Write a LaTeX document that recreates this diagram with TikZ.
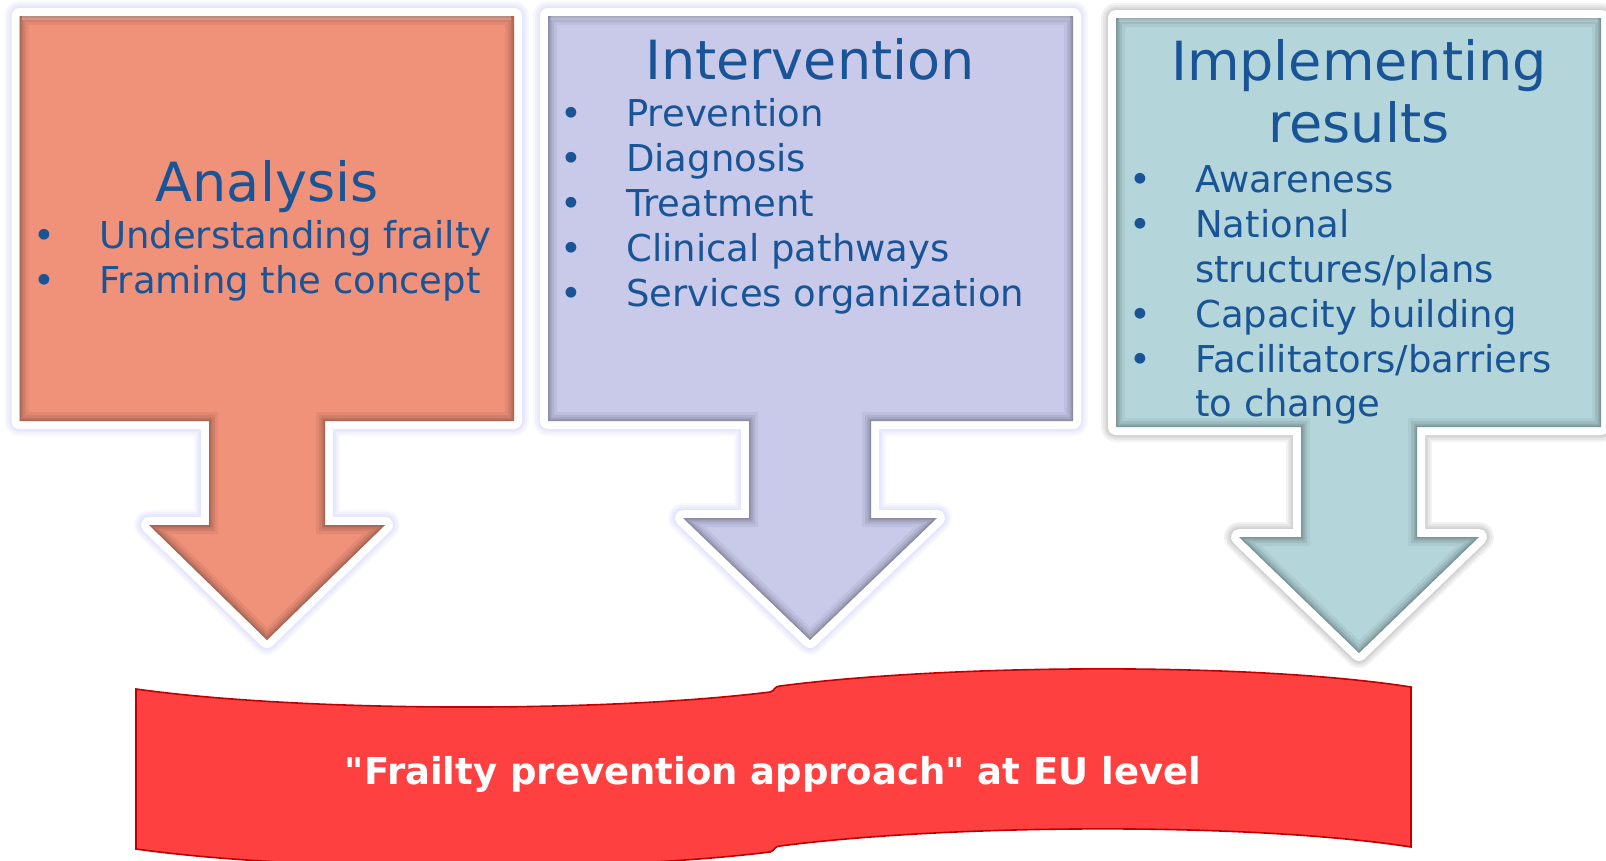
\documentclass[tikz,border=0pt]{standalone}
\usepackage{fontspec}
\setmainfont{DejaVu Sans}
% straight quotation marks on the banner
\newfontfamily\bannerfont{DejaVu Sans}[Ligatures=TeXOff]
\definecolor{textblue}{RGB}{24,84,150}
\definecolor{salmonfill}{RGB}{240,145,122}
\definecolor{lavfill}{RGB}{201,202,234}
\definecolor{tealfill}{RGB}{180,214,219}
\definecolor{glowlav}{RGB}{190,190,245}
\definecolor{bannerred}{RGB}{255,64,64}
\definecolor{bannerline}{RGB}{192,0,0}
% soft halo made of several faint strokes
\newcommand\softhalo[2]{%
  \foreach \w in {30,26,22,19}
    \draw[#2, opacity=.07, line width=\w, line join=round] #1;}
% one bevelled arrow box: #1 outline path, #2 fill colour, #3 halo colour
\newcommand\bevelarrow[3]{%
  \softhalo{#1}{#3}
  \draw[white, line width=16, line join=round] #1;
  \fill[#2] #1;
  \begin{scope}
    \clip #1;
    \foreach \w/\o in {18/.05,12/.07,7/.09,3/.12}
      \draw[black, opacity=\o, line width=\w, line join=miter] #1;
  \end{scope}}
\begin{document}
\begin{tikzpicture}[x=1pt,y=-1pt,
  bodytext/.style={inner sep=0pt, text=textblue, anchor=base west,
    font=\fontsize{37}{45}\selectfont},
  bulletmark/.style={inner sep=0pt, text=textblue, anchor=base,
    font=\fontsize{37}{45}\selectfont},
  titletext/.style={inner sep=0pt, text=textblue, anchor=base,
    font=\fontsize{54}{62}\selectfont},
]
\useasboundingbox (0,0) rectangle (1606,860);
\clip (0,0) rectangle (1606,860);

% --- three box arrows ---
\bevelarrow{(19.5,16) -- (514,16) -- (514,421) -- (325,421) -- (325,525) -- (385,525)
  -- (267,640) -- (149,525) -- (209,525) -- (209,421) -- (19.5,421) -- cycle}{salmonfill}{glowlav!80!blue}
\bevelarrow{(548,16) -- (1073,16) -- (1073,421) -- (871,421) -- (871,518) -- (937,518)
  -- (810,640) -- (683,518) -- (749,518) -- (749,421) -- (548,421) -- cycle}{lavfill}{glowlav!80!blue}
\bevelarrow{(1116,18) -- (1601,18) -- (1601,427) -- (1417,427) -- (1417,537) -- (1479,537)
  -- (1359,653) -- (1239,537) -- (1301,537) -- (1301,427) -- (1116,427) -- cycle}{tealfill}{black!70}

% highlights along the top edges
\foreach \xa/\xb/\yy in {22/511/18, 551/1070/18, 1119/1598/20}
  \draw[white, opacity=.25, line width=4] (\xa,\yy) -- (\xb,\yy);

% --- box 1 text ---
\node[titletext] (antitle) at (267,201) {Analysis};
\node[bulletmark] (anb1) at (44,248) {•};
\node[bodytext]   (ant1) at (99,248) {Understanding frailty};
\node[bulletmark] (anb2) at (44,293) {•};
\node[bodytext]   (ant2) at (99,293) {Framing the concept};

% --- box 2 text ---
\node[titletext] (intitle) at (810,79) {Intervention};
\foreach \yy/\txt [count=\i] in {126/Prevention, 171/Diagnosis, 216/Treatment,
    261/Clinical pathways, 306/Services organization}{
  \node[bulletmark] (inb\i) at (571.5,\yy) {•};
  \node[bodytext]   (int\i) at (626,\yy) {\txt};
}

% --- box 3 text ---
\node[titletext] (imtitlea) at (1359,80) {Implementing};
\node[titletext] (imtitleb) at (1359,142) {results};
\node[bulletmark] (imb1) at (1140,192) {•};
\node[bodytext]   (imt1) at (1195,192) {Awareness};
\node[bulletmark] (imb2) at (1140,237) {•};
\node[bodytext]   (imt2) at (1195,237) {National};
\node[bodytext]   (imt2b) at (1195,282) {structures/plans};
\node[bulletmark] (imb3) at (1140,327) {•};
\node[bodytext]   (imt3) at (1195,327) {Capacity building};
\node[bulletmark] (imb4) at (1140,372) {•};
\node[bodytext]   (imt4) at (1195,372) {Facilitators/barriers};
\node[bodytext]   (imt4b) at (1195,416) {to change};

% --- wave banner ---
\draw[fill=bannerred, draw=bannerline, line width=1.6]
  (136,689) .. controls (300,712) and (600,713) .. (770,692)
  .. controls (775,691) and (774,686) .. (780,686)
  .. controls (950,664) and (1250,662) .. (1411,687)
  -- (1411,847)
  .. controls (1250,822) and (950,824) .. (780,846)
  .. controls (774,846) and (775,851) .. (770,852)
  .. controls (600,873) and (300,872) .. (136,849)
  -- cycle;
\node[inner sep=0pt, text=white, anchor=base, font=\bannerfont\bfseries\fontsize{37}{44}\selectfont]
  (banner) at (773,784) {"Frailty prevention approach" at EU level};
\end{tikzpicture}
\end{document}
